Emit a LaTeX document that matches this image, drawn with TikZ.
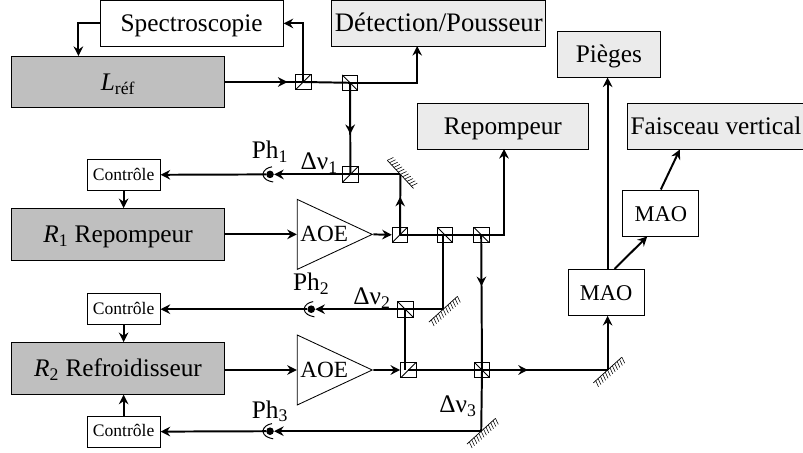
\documentclass[tikz,border=0pt]{standalone}
\usepackage{fontspec}
\setmainfont{Liberation Serif}
\usepackage{tikz}
\usetikzlibrary{arrows.meta,shapes.geometric,decorations.markings}
\definecolor{laserGray}{gray}{0.75}
\definecolor{sortieGray}{gray}{0.92}
\tikzset{
  pics/miroir/.style={code={
    \draw[line width=0.5pt] (-0.48,0) -- (0.48,0);
    \foreach \t in {-0.48,-0.40,...,0.44} \draw[line width=0.4pt] (\t,0) -- ++(0.05,0.16);
  }}
}
\begin{document}
\begin{tikzpicture}[
  font=\fontsize{18}{21}\selectfont,
  bx/.style={draw, line width=0.7pt, minimum height=1.15cm, inner sep=0pt, align=center, text height=16pt, text depth=4.6pt},
  laser/.style={bx, fill=laserGray, minimum width=5.325cm, minimum height=1.29cm},
  sortie/.style={bx, fill=sortieGray},
  ctrl/.style={draw, line width=0.7pt, minimum width=1.825cm, minimum height=0.78cm, inner sep=0pt, text height=11pt, text depth=3.4pt, font=\fontsize{12.5}{14}\selectfont},
  aoe/.style={draw, line width=0.6pt, isosceles triangle, isosceles triangle stretches, minimum width=1.75cm, minimum height=1.875cm, inner sep=0pt, anchor=west, font=\fontsize{16.5}{20}\selectfont},
  cubeup/.style={draw, line width=0.6pt, minimum size=0.39cm, inner sep=0pt, path picture={\draw[line width=0.6pt] (path picture bounding box.south west) -- (path picture bounding box.north east);}},
  cubedown/.style={draw, line width=0.6pt, minimum size=0.39cm, inner sep=0pt, path picture={\draw[line width=0.6pt] (path picture bounding box.north west) -- (path picture bounding box.south east);}},
  photo/.style={circle, fill=black, inner sep=0pt, minimum size=0.19cm},
  beam/.style={line width=1.4pt},
  arr/.style={beam, -{Stealth[length=2.4mm, width=2.4mm, inset=0.8mm]}},
  fl/.style={beam, postaction={decorate}, decoration={markings, mark=at position #1 with {\arrow{Stealth[length=2.4mm, width=2.4mm, inset=0.8mm]}}}},
]
\useasboundingbox (0,0) rectangle (20.075,-11.325);
% boites
\node[bx, minimum width=4.575cm] (spectro) at (4.79,-0.585) {Spectroscopie};
\node[laser] (lref) at (2.95,-2.05) {\textit{L}\textsubscript{réf}};
\node[sortie, minimum width=5.35cm, font=\fontsize{19}{22}\selectfont] (detect) at (10.97,-0.585) {Détection/Pousseur};
\node[sortie, minimum width=2.585cm] (pieges) at (15.22,-1.35) {Pièges};
\node[sortie, minimum width=4.275cm] (repomp) at (12.57,-3.15) {Repompeur};
\node[sortie, minimum width=4.45cm] (faisceau) at (17.9,-3.15) {Faisceau vertical};
\node[bx, minimum width=1.9cm, font=\fontsize{16}{19}\selectfont] (maoh) at (16.52,-5.325) {MAO};
\node[bx, minimum width=1.9cm, font=\fontsize{16}{19}\selectfont] (maob) at (15.15,-7.31) {MAO};
\node[ctrl] (ctrl1) at (3.09,-4.37) {Contrôle};
\node[ctrl] (ctrl2) at (3.09,-7.73) {Contrôle};
\node[ctrl] (ctrl3) at (3.09,-10.79) {Contrôle};
\node[laser] (r1) at (2.95,-5.86) {\textit{R}\textsubscript{1} Repompeur};
\node[laser] (r2) at (2.95,-9.21) {\textit{R}\textsubscript{2} Refroidisseur};
\node[aoe] (aoe1) at (7.42,-5.86) {AOE};
\node[aoe] (aoe2) at (7.42,-9.25) {AOE};
% cubes
\node[cubeup] (bsa) at (7.58,-2.05) {};
\node[cubedown] (bsb) at (8.75,-2.07) {};
\node[cubeup] (bsc) at (8.76,-4.36) {};
\node[cubeup] (bsd) at (10.0,-5.87) {};
\node[cubedown] (bse) at (11.12,-5.87) {};
\node[cubedown] (bsf) at (12.03,-5.87) {};
\node[cubedown] (bsg) at (10.13,-7.73) {};
\node[cubeup] (bsh) at (10.21,-9.25) {};
\node[cubedown] (bsi) at (12.05,-9.25) {};
% miroirs
\coordinate (m1) at (10.01,-4.36);
\coordinate (m2) at (11.08,-7.73);
\coordinate (m3) at (12.03,-10.78);
\coordinate (m4) at (15.19,-9.25);
\pic[rotate=-47] at (m1) {miroir};
\pic[rotate=-138] at (m2) {miroir};
\pic[rotate=-138] at (m3) {miroir};
\pic[rotate=-138] at (m4) {miroir};
% photodiodes
\node[photo] (ph1) at (6.75,-4.36) {};
\node[photo] (ph2) at (7.78,-7.73) {};
\node[photo] (ph3) at (6.75,-10.78) {};
\foreach \p in {ph1,ph2,ph3}
  \draw[line width=0.7pt] (\p.center) ++(0.05,0.19) to[out=190,in=80] ++(-0.23,-0.19) to[out=-80,in=170] ++(0.26,-0.19);
% faisceau maitre
\draw[fl=0.5] (lref.east) -- (bsa.center) -- (bsb.center);
\draw[arr] (bsb.center) -| (10.43,-1.15);
\draw[arr] (bsa.center) |- (spectro.east);
\draw[arr] (spectro.west) -| (1.96,-1.4);
\draw[fl=0.56] (bsb.center) -- (bsc.center);
% boucle 1
\draw[arr] (m1) -- (ph1.east);
\draw[arr] (ph1) -- (ctrl1.east);
\draw[arr] (ctrl1.south) -- (ctrl1.south |- r1.north);
\draw[arr] (r1.east) -- (aoe1.west);
\draw[arr] (aoe1.apex) -- (bsd.west);
\draw[fl=0.63] (bsd.center) -- (m1);
\draw[beam] (bsd.center) -- (bsf.center);
\draw[arr] (bsf.center) -- (12.6,-5.87) -- (12.6,-3.725);
% boucle 2
\draw[beam] (m2 |- bse.center) -- (m2);
\draw[arr] (m2) -- (ph2.east);
\draw[arr] (ph2) -- (ctrl2.east);
\draw[arr] (ctrl2.south) -- (ctrl2.south |- r2.north);
\draw[arr] (aoe2.west -| r2.east) -- (aoe2.west);
\draw[arr] (aoe2.apex) -- (bsh.west);
\draw[beam] (bsg.center) -- (bsg.center |- bsh.center);
% boucle 3
\draw[fl=0.38] (bsf.center) -- (bsi.center);
\draw[beam] (bsi.center) -- (m3);
\draw[arr] (m3) -- (ph3.east);
\draw[arr] (ph3) -- (ctrl3.east);
\draw[arr] (ctrl3.north) -- (ctrl3.north |- r2.south);
% MAO
\draw[fl=0.6] (bsh.center) -- (m4);
\draw[arr] (m4) -- (m4 |- maob.south);
\draw[arr] (m4 |- maob.north) -- (m4 |- pieges.south);
\draw[arr] (maob.70) -- (maoh.-120);
\draw[arr] (maoh.north) -- (faisceau.-147);
% textes
\node (lph1) at (6.75,-3.8) {Ph\textsubscript{1}};
\node (lph2) at (7.78,-7.1) {Ph\textsubscript{2}};
\node (lph3) at (6.75,-10.28) {Ph\textsubscript{3}};
\node (ldn1) at (7.98,-4.08) {Δν\textsubscript{1}};
\node (ldn2) at (9.3,-7.45) {Δν\textsubscript{2}};
\node (ldn3) at (11.45,-10.15) {Δν\textsubscript{3}};
\end{tikzpicture}
\end{document}
